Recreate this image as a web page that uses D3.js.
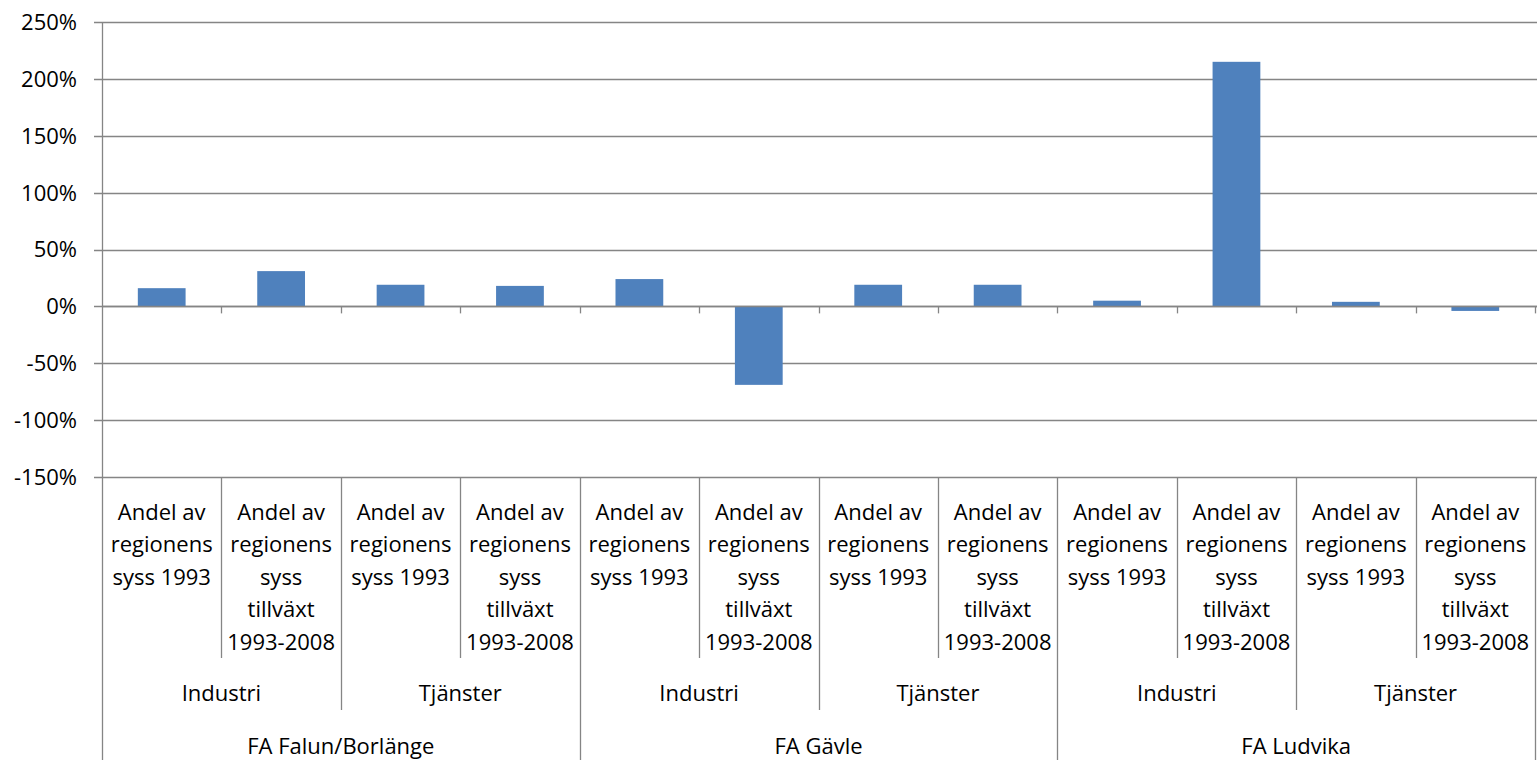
<!DOCTYPE html>
<html lang="sv">
<head>
<meta charset="UTF-8">
<title>Andel av regionens syss</title>
<script src="https://d3js.org/d3.v7.min.js"></script>
<style>
  body { margin: 0; padding: 0; background: #fff; }
  svg { display: block; font-family: 'Open Sans', Lato, sans-serif; }
</style>
</head>
<body>
<div id="chart"></div>
<script>
// Kategorier (tre nivåer)
const regions = ['FA Falun/Borlänge', 'FA Gävle', 'FA Ludvika'];
const sectors = ['Industri', 'Tjänster'];
const measures = [
  ['Andel av', 'regionens', 'syss 1993'],
  ['Andel av', 'regionens', 'syss', 'tillväxt', '1993-2008']
];

// Värden i procent, region x sektor x mått
const values = [16, 31, 19, 18, 24, -69, 19, 19, 5, 215, 4, -4];

const yTicks = [-150, -100, -50, 0, 50, 100, 150, 200, 250];

// Bygg platt lista med kategorier
const cats = [];
regions.forEach((r, ri) => {
  sectors.forEach((s, si) => {
    measures.forEach((m, mi) => {
      cats.push({ region: r, sector: s, lines: m, key: `${ri}-${si}-${mi}`, value: values[cats.length] });
    });
  });
});

const width = 1537, height = 760;
const padL = 102, padR = 1535, padT = 22, padB = 477;
const fontSize = 22;

const svg = d3.select('#chart').append('svg')
  .attr('width', width)
  .attr('height', height);

const x = d3.scaleBand()
  .domain(cats.map(d => d.key))
  .range([padL, padR])
  .paddingInner(0.6)
  .paddingOuter(0.3);

const y = d3.scaleLinear()
  .domain([-150, 250])
  .range([padB, padT]);

const step = x.step();
const gridColor = '#858585';

// Rutnät
svg.append('g')
  .selectAll('line')
  .data(yTicks)
  .enter()
  .append('line')
  .attr('x1', padL - 8)
  .attr('x2', width)
  .attr('y1', d => Math.round(y(d)) + 0.5)
  .attr('y2', d => Math.round(y(d)) + 0.5)
  .attr('stroke', gridColor)
  .attr('stroke-width', 1.3);

// Y-axelns etiketter
svg.append('g')
  .selectAll('text')
  .data(yTicks)
  .enter()
  .append('text')
  .attr('x', 77)
  .attr('y', d => y(d))
  .attr('dy', '0.36em')
  .attr('text-anchor', 'end')
  .attr('font-size', fontSize)
  .attr('fill', '#000')
  .text(d => d + '%');

// Staplar
svg.append('g')
  .selectAll('rect')
  .data(cats)
  .enter()
  .append('rect')
  .attr('x', d => x(d.key))
  .attr('width', x.bandwidth())
  .attr('y', d => y(Math.max(0, d.value)))
  .attr('height', d => Math.abs(y(d.value) - y(0)))
  .attr('fill', '#4F81BD');

// Y-axel och nollinje
svg.append('line')
  .attr('x1', padL + 0.5).attr('x2', padL + 0.5)
  .attr('y1', padT).attr('y2', height)
  .attr('stroke', gridColor).attr('stroke-width', 1.3);

svg.append('line')
  .attr('x1', padL).attr('x2', width)
  .attr('y1', Math.round(y(0)) + 0.5).attr('y2', Math.round(y(0)) + 0.5)
  .attr('stroke', gridColor).attr('stroke-width', 1.6);

// Små streck vid nollinjen
svg.append('g')
  .selectAll('line')
  .data(d3.range(1, cats.length + 1))
  .enter()
  .append('line')
  .attr('x1', i => Math.round(padL + i * step) + 0.5)
  .attr('x2', i => Math.round(padL + i * step) + 0.5)
  .attr('y1', y(0))
  .attr('y2', y(0) + 7)
  .attr('stroke', gridColor)
  .attr('stroke-width', 1.3);

// Kategoriaxelns avdelare
const leafBottom = 658, sectorBottom = 710;
svg.append('g')
  .selectAll('line')
  .data(d3.range(1, cats.length + 1))
  .enter()
  .append('line')
  .attr('x1', i => Math.round(padL + i * step) + 0.5)
  .attr('x2', i => Math.round(padL + i * step) + 0.5)
  .attr('y1', padB)
  .attr('y2', i => i % 4 === 0 ? height : (i % 2 === 0 ? sectorBottom : leafBottom))
  .attr('stroke', gridColor)
  .attr('stroke-width', 1.3);

// Mått-etiketter
const lineH = 32.5;
const leaf = svg.append('g')
  .selectAll('text')
  .data(cats)
  .enter()
  .append('text')
  .attr('text-anchor', 'middle')
  .attr('font-size', fontSize)
  .attr('fill', '#000');

leaf.selectAll('tspan')
  .data(d => d.lines.map(l => ({ l, cx: x(d.key) + x.bandwidth() / 2 })))
  .enter()
  .append('tspan')
  .attr('x', d => d.cx)
  .attr('y', (d, i) => 512 + i * lineH)
  .attr('dy', '0.36em')
  .text(d => d.l);

// Sektor-etiketter
const sectorCats = [];
regions.forEach((r, ri) => sectors.forEach((s, si) => sectorCats.push({ s, i: ri * 2 + si })));
svg.append('g')
  .selectAll('text')
  .data(sectorCats)
  .enter()
  .append('text')
  .attr('x', d => padL + (d.i * 2 + 1) * step)
  .attr('y', 693)
  .attr('dy', '0.36em')
  .attr('text-anchor', 'middle')
  .attr('font-size', fontSize)
  .attr('fill', '#000')
  .text(d => d.s);

// Region-etiketter
svg.append('g')
  .selectAll('text')
  .data(regions)
  .enter()
  .append('text')
  .attr('x', (d, i) => padL + (i * 4 + 2) * step)
  .attr('y', 746)
  .attr('dy', '0.36em')
  .attr('text-anchor', 'middle')
  .attr('font-size', fontSize)
  .attr('fill', '#000')
  .text(d => d);
</script>
</body>
</html>
